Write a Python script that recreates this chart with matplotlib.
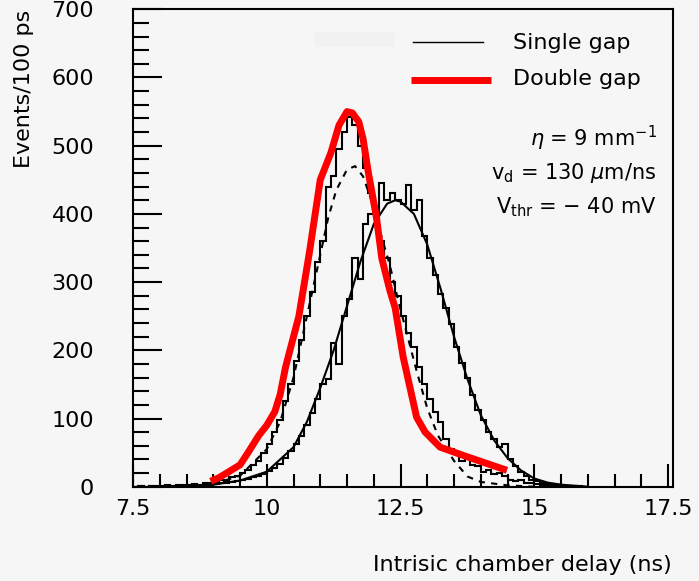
import numpy as np
import matplotlib.pyplot as plt
from matplotlib.ticker import MultipleLocator
from matplotlib.patches import Rectangle

# bins of 100 ps from 7.5 to 16.0 ns
bin_edges = np.round(np.linspace(7.5, 16.0, 86), 2)

single_gap = [0, 1, 0, 1, 1, 0, 1, 1, 0, 1,
              2, 1, 2, 3, 3, 4, 5, 5, 7, 8,
              10, 11, 14, 16, 18, 23, 28, 33, 42, 52,
              62, 75, 90, 108, 128, 150, 158, 210, 180, 250,
              275, 335, 305, 385, 400, 395, 445, 420, 430, 420,
              415, 442, 405, 420, 368, 335, 310, 282, 262, 238,
              205, 182, 160, 135, 112, 98, 80, 70, 58, 62,
              40, 30, 22, 15, 10, 8, 5, 4, 2, 2,
              1, 1, 0, 1, 0]

double_gap = [0, 1, 0, 1, 0, 1, 2, 1, 2, 3,
              2, 4, 3, 6, 5, 8, 10, 9, 14, 16,
              20, 25, 32, 38, 50, 62, 80, 98, 125, 150,
              185, 215, 250, 285, 330, 360, 440, 455, 495, 520,
              542, 530, 500, 468, 430, 395, 360, 335, 300, 280,
              250, 225, 205, 175, 150, 128, 110, 95, 70, 55,
              48, 38, 45, 32, 30, 22, 25, 18, 20, 15,
              10, 8, 10, 6, 5, 4, 3, 2, 2, 1,
              1, 0, 1, 0, 0]

# smooth single gap curve
single_fit_x = [9.0, 9.5, 10.0, 10.5, 10.75, 11.0, 11.25, 11.5, 11.75, 12.0, 12.25, 12.4,
                12.5, 12.75, 13.0, 13.25, 13.5, 13.75, 14.0, 14.25, 14.5, 14.75, 15.0,
                15.25, 15.5, 16.0]
single_fit_y = [3, 9, 22, 58, 95, 145, 200, 265, 330, 385, 415, 420,
                418, 400, 355, 290, 220, 158, 105, 68, 42, 24, 12,
                6, 3, 0]

# dashed double gap curve
double_fit_x = [9.0, 9.5, 10.0, 10.25, 10.5, 10.75, 11.0, 11.15, 11.3, 11.5, 11.65, 11.8,
                12.0, 12.15, 12.3, 12.45, 12.6, 12.8, 13.0, 13.2, 13.5, 13.75, 14.0,
                14.5, 15.0]
double_fit_y = [4, 16, 55, 95, 160, 250, 340, 395, 435, 465, 470, 455,
                410, 365, 325, 275, 230, 170, 115, 75, 38, 15, 7,
                2, 0]

# red hand-drawn line
red_x = [8.95, 9.1, 9.25, 9.5, 9.65, 9.85, 10.0, 10.15, 10.25, 10.35, 10.6, 10.8,
         11.0, 11.2, 11.35, 11.5, 11.6, 11.72, 11.8, 11.9, 12.05, 12.15, 12.3, 12.4,
         12.55, 12.8, 12.96, 13.24, 13.74, 14.49]
red_y = [8, 13, 20, 32, 50, 75, 90, 110, 135, 175, 250, 345,
         450, 490, 530, 550, 548, 535, 510, 460, 395, 335, 288, 262,
         190, 102, 80, 58, 44, 24]

bg = '#f6f6f6'
fs = 16

fig = plt.figure(figsize=(6.99, 5.81), dpi=100, facecolor=bg)
ax = fig.add_axes([0.1903, 0.1623, 0.7725, 0.8217], facecolor=bg)

ax.stairs(single_gap, bin_edges, color='black', linewidth=1.5)
ax.stairs(double_gap, bin_edges, color='black', linewidth=1.5)
ax.plot(single_fit_x, single_fit_y, color='black', linewidth=1.5)
ax.plot(double_fit_x, double_fit_y, color='black', linewidth=1.5, linestyle=(0, (3, 3)))
ax.plot(red_x, red_y, color='#ff0000', linewidth=5, solid_capstyle='butt',
        solid_joinstyle='round', zorder=5)

ax.set_xlim(7.5, 17.593)
ax.set_ylim(0, 700)
ax.set_xticks([7.5, 10, 12.5, 15, 17.5])
ax.set_xticklabels(['7.5', '10', '12.5', '15', '17.5'])
ax.xaxis.set_minor_locator(MultipleLocator(0.5))
ax.yaxis.set_major_locator(MultipleLocator(100))
ax.yaxis.set_minor_locator(MultipleLocator(20))

ax.tick_params(axis='x', which='major', direction='in', length=16.5, width=1.5,
               labelsize=fs, pad=9)
ax.tick_params(axis='x', which='minor', direction='in', length=9.4, width=1.5)
ax.tick_params(axis='y', which='major', direction='in', length=21, width=1.5,
               labelsize=fs, pad=28)
ax.tick_params(axis='y', which='minor', direction='in', length=11.5, width=1.5)
for s in ax.spines.values():
    s.set_linewidth(1.5)

# faint leftover patch
ax.add_patch(Rectangle((0.337, 0.921), 0.148, 0.031, transform=ax.transAxes,
                       facecolor='#f1f1f1', edgecolor='none', zorder=0))

# legend
ax.plot([0.5185, 0.648], [0.931, 0.931], color='black', linewidth=1,
        transform=ax.transAxes)
ax.plot([0.515, 0.663], [0.852, 0.852], color='#ff0000', linewidth=5,
        solid_capstyle='butt', transform=ax.transAxes)
ax.text(0.704, 0.929, 'Single gap', transform=ax.transAxes, fontsize=fs,
        va='center', ha='left')
ax.text(0.704, 0.854, 'Double gap', transform=ax.transAxes, fontsize=fs,
        va='center', ha='left')

ax.text(0.970, 0.730, r'$\eta$ = 9 mm$^{-1}$', transform=ax.transAxes,
        fontsize=15, ha='right', va='center')
ax.text(0.970, 0.657, r'v$_{\rm d}$ = 130 $\mu$m/ns', transform=ax.transAxes,
        fontsize=15, ha='right', va='center')
ax.text(0.970, 0.586, r'V$_{\rm thr}$ = $-$ 40 mV', transform=ax.transAxes,
        fontsize=15, ha='right', va='center')

fig.text(24 / 699, 1 - 10 / 581, 'Events/100 ps', rotation=90, fontsize=fs,
         ha='center', va='top')
fig.text(672 / 699, 1 - 565 / 581, 'Intrisic chamber delay (ns)', fontsize=fs,
         ha='right', va='center')

fig.savefig('out.png', dpi=100, facecolor=bg)
